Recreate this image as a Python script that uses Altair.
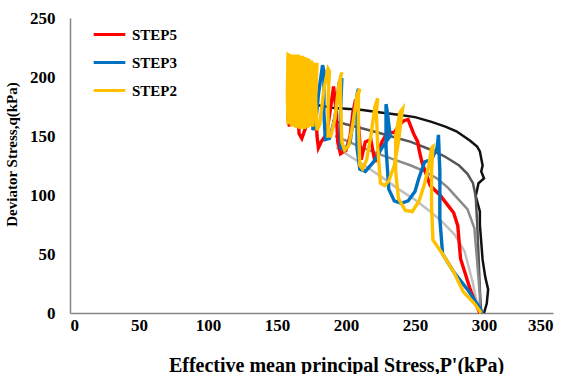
import altair as alt
import pandas as pd

# ---- data ----
g1_p = [300, 302, 303, 301, 299, 298, 297, 297, 294, 296, 300, 298, 299, 297, 295, 290, 285, 280, 272, 262, 250, 238, 225, 212, 200, 190, 180]
g1_q = [0, 8, 20, 30, 45, 60, 75, 86, 99, 110, 114, 120, 125, 137, 141, 146, 150, 154, 158, 162, 166, 168, 170, 172, 173, 174, 176]

g2_p = [298, 297, 296, 295, 294, 292, 288, 282, 271, 260, 247, 235, 223, 210, 200, 190]
g2_q = [0, 20, 50, 77, 99, 110, 118, 125, 133, 139, 145, 149, 153, 157, 160, 163]

g3_p = [297, 297, 296, 293, 288, 281, 274, 266, 257, 247, 235, 223, 210, 200, 192]
g3_q = [0, 15, 30, 72, 88, 97, 106, 114, 120, 125, 130, 135, 141, 146, 150]

g4_p = [297, 295, 292, 286, 279, 270, 261, 250, 238, 225, 212, 200, 193]
g4_q = [0, 7, 25, 52, 66, 77, 86, 96, 105, 116, 126, 135, 140]

step5_p = [297, 295, 290, 286, 283, 281, 278, 274, 268, 261, 258, 255, 253, 252, 249, 247, 245, 242, 239, 235, 230,
           226, 223, 221, 218, 214, 211, 209, 207, 205, 203, 200, 196, 194, 193, 191, 189, 186, 182, 180, 179, 178,
           176, 174, 171, 168, 166, 165, 163, 161, 159, 158, 160]
step5_q = [0, 5, 20, 35, 46, 74, 85, 91, 100, 108, 118, 128, 138, 145, 152, 158, 164, 163, 160, 153, 153,
           145, 136, 128, 147, 145, 130, 160, 181, 170, 150, 138, 135, 145, 170, 192, 175, 152, 145, 140, 150, 175,
           192, 178, 158, 148, 152, 175, 195, 172, 158, 165, 190]

step3_p = [299, 296, 288, 278, 270, 268, 268, 267, 266, 262, 257, 253, 250, 245, 240, 235, 231, 229, 229, 230, 232,
           226, 220, 214, 210, 208, 208, 209, 206, 203, 199, 196, 196, 197, 195, 192, 188, 185, 184, 184, 183, 180,
           178, 176, 176, 175, 173, 171, 169, 168, 168, 166, 164, 163, 163, 161, 160]
step3_q = [0, 6, 20, 35, 50, 80, 120, 151, 140, 130, 128, 115, 103, 95, 93, 95, 105, 140, 177, 170, 150,
           140, 128, 120, 122, 140, 185, 190, 170, 145, 138, 140, 170, 199, 195, 165, 148, 147, 170, 205, 210, 185,
           160, 155, 190, 213, 205, 170, 160, 190, 215, 200, 165, 185, 215, 195, 170]

step2_p = [298, 293, 285, 278, 270, 263, 262, 262, 263, 262, 260, 257, 253, 248, 243, 238, 236, 236, 239, 241, 240,
           238, 235, 231, 228, 225, 223, 222, 223, 221, 218, 215, 212, 210, 209, 209, 210, 208, 205, 202, 199, 197,
           196, 196, 197, 195, 192, 189, 187, 187, 188, 187, 184, 181, 179, 178, 179,
           177, 176, 175, 175, 174, 173, 172, 172, 171, 170, 169, 169, 168, 167, 166, 166, 165, 164, 163, 163,
           162, 161, 160, 160, 159, 158, 157.5, 158, 159.5, 161, 162.5, 164, 165.5, 167, 168.5, 170, 171.5, 173,
           174.5, 176, 177, 175.5, 174, 172.5, 171, 169.5, 168, 166.5, 165, 163.5, 162, 160.5, 159, 158, 158.5,
           160, 161.5, 163, 164.5, 166, 167.5, 169, 170.5, 172, 173.5, 175,
           174.2, 173.4, 172.6, 171.8, 171, 170.2, 169.4, 168.6, 167.8, 167, 166.2, 165.4, 164.6, 163.8, 163,
           162.2, 161.4, 160.6, 159.8, 159, 158.2, 157.8]
step2_q = [0, 8, 18, 35, 50, 62, 90, 120, 141, 140, 125, 110, 95, 86, 87, 97, 120, 150, 170, 173, 165,
           145, 125, 112, 108, 110, 140, 170, 182, 175, 150, 130, 122, 125, 160, 185, 190, 185, 160, 142, 138, 145,
           180, 200, 204, 195, 165, 150, 150, 180, 205, 207, 190, 160, 155, 180, 212,
           185, 158, 175, 214, 200, 158, 180, 215, 190, 156, 175, 216, 195, 156, 180, 217, 195, 157, 180, 218,
           195, 158, 180, 219, 195, 160, 185, 219, 218, 162, 217, 160, 217, 158, 216, 158, 215, 160,
           214, 160, 212, 158, 213, 157, 215, 156, 216, 156, 217, 157, 218, 158, 219, 165, 200,
           218, 160, 219, 158, 218, 157, 217, 157, 216, 158, 214,
           160, 215, 158, 216, 157, 217, 157, 218, 157, 218, 158, 219, 158, 219, 159,
           219, 159, 219, 160, 218, 162, 215]

gray_series = [("G1", g1_p, g1_q, "#111111"), ("G2", g2_p, g2_q, "#555555"),
               ("G3", g3_p, g3_q, "#8a8a8a"), ("G4", g4_p, g4_q, "#c0c0c0")]
color_series = [("STEP5", step5_p, step5_q), ("STEP3", step3_p, step3_q), ("STEP2", step2_p, step2_q)]


def frame(name, ps, qs):
    return pd.DataFrame({"series": name, "p": ps, "q": qs, "i": list(range(len(ps)))})


FONT = "Liberation Serif"
x_enc = alt.X("p:Q", scale=alt.Scale(domain=[0, 350], nice=False),
              axis=alt.Axis(values=[0, 50, 100, 150, 200, 250, 300, 350],
                            title="Effective mean principal Stress,P'(kPa)",
                            titleFontSize=20, titlePadding=22, labelPadding=4,
                            titleX=266, titleAlign="center"))
y_enc = alt.Y("q:Q", scale=alt.Scale(domain=[0, 250], nice=False),
              axis=alt.Axis(values=[0, 50, 100, 150, 200, 250], title="Deviator Stress,q(kPa)",
                            titleFontSize=15, titlePadding=10, labelPadding=15,
                            titleY=136, titleAlign="center"))

layers = []
for name, ps, qs, col in gray_series:
    layers.append(alt.Chart(frame(name, ps, qs)).mark_line(strokeWidth=2.5, color=col).encode(
        x=x_enc, y=y_enc, order="i:Q"))

color_scale = alt.Scale(domain=["STEP5", "STEP3", "STEP2"], range=["#FF0000", "#0070C0", "#FFC000"])
for name, ps, qs in color_series:
    layers.append(alt.Chart(frame(name, ps, qs)).mark_line(strokeWidth=3.4).encode(
        x=x_enc, y=y_enc, order="i:Q",
        color=alt.Color("series:N", scale=color_scale, sort=["STEP5", "STEP3", "STEP2"],
                        legend=alt.Legend(title=None, orient="none", legendX=22, legendY=-1))))

chart = alt.layer(*layers).properties(
    width=483, height=295,
    autosize=alt.AutoSizeParams(type="none"),
    padding={"left": 70, "top": 18, "right": 16, "bottom": 61},
).configure_view(stroke=None).configure_axis(
    grid=False, ticks=False, domainColor="#868686", domainWidth=1.5,
    labelFont=FONT, labelFontWeight="bold", labelFontSize=17, labelColor="#000000",
    titleFont=FONT, titleFontWeight="bold", titleColor="#000000",
).configure_legend(
    symbolType="stroke", symbolSize=1000, symbolStrokeWidth=3,
    labelFont=FONT, labelFontWeight="bold", labelFontSize=15, labelColor="#000000",
    rowPadding=2, labelOffset=5,
)

chart.save("out.html", embed_options={"renderer": "svg", "actions": False})
